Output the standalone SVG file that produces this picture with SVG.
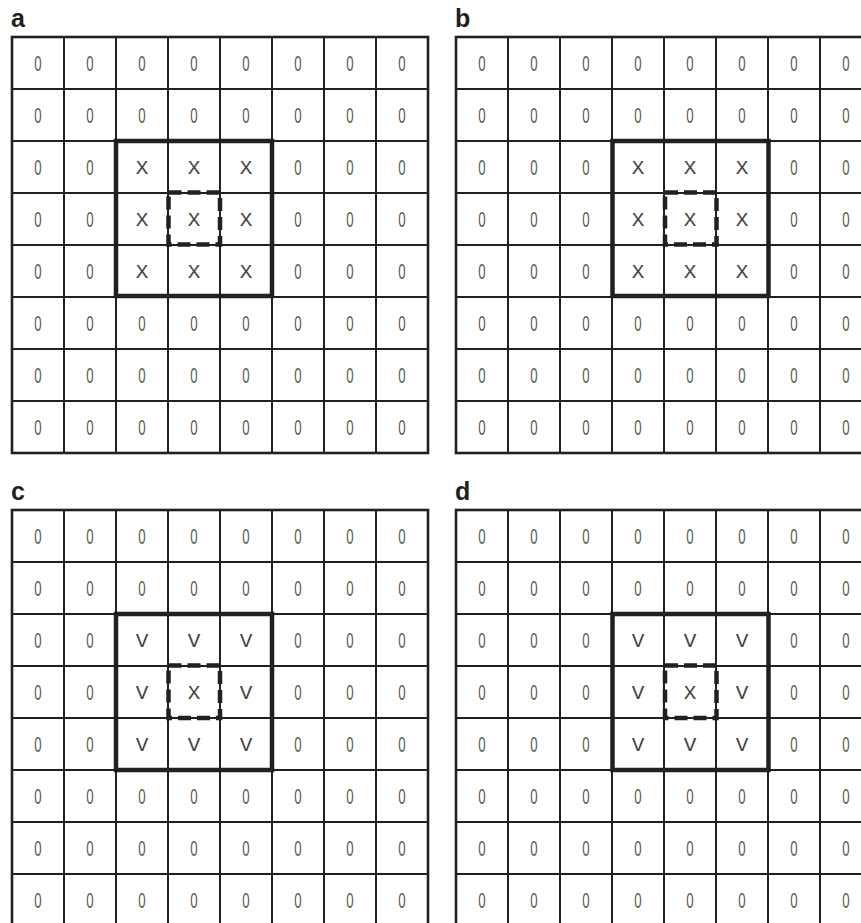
<svg xmlns="http://www.w3.org/2000/svg" width="861" height="923" viewBox="0 0 861 923">
<style>
.lbl{font-family:"Liberation Sans",Arial,sans-serif;font-weight:bold;font-size:25px;fill:#231f20}
.outer{fill:#fff;stroke:#231f20;stroke-width:2.6}
.inner{fill:none;stroke:#231f20;stroke-width:2}
.z{font-family:"Liberation Sans",Arial,sans-serif;font-size:22px;fill:#5a5a5a;text-anchor:middle}
.c{font-family:"Liberation Mono","Courier New",monospace;font-size:21px;fill:#444;text-anchor:middle}
.bold{fill:none;stroke:#231f20;stroke-width:4.5}
.dash{fill:none;stroke:#231f20;stroke-width:4.5;stroke-dasharray:13 6}
</style>
<rect width="861" height="923" fill="#fff"/>
<g id="connectors"/>

<g id="grid-a">
<text class="lbl" x="11" y="27">a</text>
<rect class="outer" x="12" y="37" width="416" height="416"/>
<path class="inner" d="M64 37V453M116 37V453M168 37V453M220 37V453M272 37V453M324 37V453M376 37V453M12 89H428M12 141H428M12 193H428M12 245H428M12 297H428M12 349H428M12 401H428"/>
<g transform="scale(0.6 1)">
<text class="z" x="63.33" y="71">0</text><text class="z" x="150" y="71">0</text><text class="z" x="236.67" y="71">0</text><text class="z" x="323.33" y="71">0</text><text class="z" x="410" y="71">0</text><text class="z" x="496.67" y="71">0</text><text class="z" x="583.33" y="71">0</text><text class="z" x="670" y="71">0</text>
<text class="z" x="63.33" y="123">0</text><text class="z" x="150" y="123">0</text><text class="z" x="236.67" y="123">0</text><text class="z" x="323.33" y="123">0</text><text class="z" x="410" y="123">0</text><text class="z" x="496.67" y="123">0</text><text class="z" x="583.33" y="123">0</text><text class="z" x="670" y="123">0</text>
<text class="z" x="63.33" y="175">0</text><text class="z" x="150" y="175">0</text><text class="z" x="496.67" y="175">0</text><text class="z" x="583.33" y="175">0</text><text class="z" x="670" y="175">0</text>
<text class="z" x="63.33" y="227">0</text><text class="z" x="150" y="227">0</text><text class="z" x="496.67" y="227">0</text><text class="z" x="583.33" y="227">0</text><text class="z" x="670" y="227">0</text>
<text class="z" x="63.33" y="279">0</text><text class="z" x="150" y="279">0</text><text class="z" x="496.67" y="279">0</text><text class="z" x="583.33" y="279">0</text><text class="z" x="670" y="279">0</text>
<text class="z" x="63.33" y="331">0</text><text class="z" x="150" y="331">0</text><text class="z" x="236.67" y="331">0</text><text class="z" x="323.33" y="331">0</text><text class="z" x="410" y="331">0</text><text class="z" x="496.67" y="331">0</text><text class="z" x="583.33" y="331">0</text><text class="z" x="670" y="331">0</text>
<text class="z" x="63.33" y="383">0</text><text class="z" x="150" y="383">0</text><text class="z" x="236.67" y="383">0</text><text class="z" x="323.33" y="383">0</text><text class="z" x="410" y="383">0</text><text class="z" x="496.67" y="383">0</text><text class="z" x="583.33" y="383">0</text><text class="z" x="670" y="383">0</text>
<text class="z" x="63.33" y="435">0</text><text class="z" x="150" y="435">0</text><text class="z" x="236.67" y="435">0</text><text class="z" x="323.33" y="435">0</text><text class="z" x="410" y="435">0</text><text class="z" x="496.67" y="435">0</text><text class="z" x="583.33" y="435">0</text><text class="z" x="670" y="435">0</text>
</g>
<text class="c" x="142" y="174">X</text><text class="c" x="194" y="174">X</text><text class="c" x="246" y="174">X</text>
<text class="c" x="142" y="226">X</text><text class="c" x="194" y="226">X</text><text class="c" x="246" y="226">X</text>
<text class="c" x="142" y="278">X</text><text class="c" x="194" y="278">X</text><text class="c" x="246" y="278">X</text>
<rect class="bold" x="116" y="141" width="156" height="155"/>
<rect class="dash" x="168.5" y="192.5" width="51.5" height="52"/>
</g>

<g id="grid-b">
<text class="lbl" x="455" y="27">b</text>
<rect class="outer" x="456" y="37" width="416" height="416"/>
<path class="inner" d="M508 37V453M560 37V453M612 37V453M664 37V453M716 37V453M768 37V453M820 37V453M456 89H872M456 141H872M456 193H872M456 245H872M456 297H872M456 349H872M456 401H872"/>
<g transform="scale(0.6 1)">
<text class="z" x="803.33" y="71">0</text><text class="z" x="890" y="71">0</text><text class="z" x="976.67" y="71">0</text><text class="z" x="1063.33" y="71">0</text><text class="z" x="1150" y="71">0</text><text class="z" x="1236.67" y="71">0</text><text class="z" x="1323.33" y="71">0</text><text class="z" x="1410" y="71">0</text>
<text class="z" x="803.33" y="123">0</text><text class="z" x="890" y="123">0</text><text class="z" x="976.67" y="123">0</text><text class="z" x="1063.33" y="123">0</text><text class="z" x="1150" y="123">0</text><text class="z" x="1236.67" y="123">0</text><text class="z" x="1323.33" y="123">0</text><text class="z" x="1410" y="123">0</text>
<text class="z" x="803.33" y="175">0</text><text class="z" x="890" y="175">0</text><text class="z" x="976.67" y="175">0</text><text class="z" x="1323.33" y="175">0</text><text class="z" x="1410" y="175">0</text>
<text class="z" x="803.33" y="227">0</text><text class="z" x="890" y="227">0</text><text class="z" x="976.67" y="227">0</text><text class="z" x="1323.33" y="227">0</text><text class="z" x="1410" y="227">0</text>
<text class="z" x="803.33" y="279">0</text><text class="z" x="890" y="279">0</text><text class="z" x="976.67" y="279">0</text><text class="z" x="1323.33" y="279">0</text><text class="z" x="1410" y="279">0</text>
<text class="z" x="803.33" y="331">0</text><text class="z" x="890" y="331">0</text><text class="z" x="976.67" y="331">0</text><text class="z" x="1063.33" y="331">0</text><text class="z" x="1150" y="331">0</text><text class="z" x="1236.67" y="331">0</text><text class="z" x="1323.33" y="331">0</text><text class="z" x="1410" y="331">0</text>
<text class="z" x="803.33" y="383">0</text><text class="z" x="890" y="383">0</text><text class="z" x="976.67" y="383">0</text><text class="z" x="1063.33" y="383">0</text><text class="z" x="1150" y="383">0</text><text class="z" x="1236.67" y="383">0</text><text class="z" x="1323.33" y="383">0</text><text class="z" x="1410" y="383">0</text>
<text class="z" x="803.33" y="435">0</text><text class="z" x="890" y="435">0</text><text class="z" x="976.67" y="435">0</text><text class="z" x="1063.33" y="435">0</text><text class="z" x="1150" y="435">0</text><text class="z" x="1236.67" y="435">0</text><text class="z" x="1323.33" y="435">0</text><text class="z" x="1410" y="435">0</text>
</g>
<text class="c" x="638" y="174">X</text><text class="c" x="690" y="174">X</text><text class="c" x="742" y="174">X</text>
<text class="c" x="638" y="226">X</text><text class="c" x="690" y="226">X</text><text class="c" x="742" y="226">X</text>
<text class="c" x="638" y="278">X</text><text class="c" x="690" y="278">X</text><text class="c" x="742" y="278">X</text>
<rect class="bold" x="612.5" y="141" width="156" height="155"/>
<rect class="dash" x="665" y="192.5" width="51.5" height="52"/>
</g>

<g id="grid-c">
<text class="lbl" x="11" y="500">c</text>
<rect class="outer" x="12" y="510" width="416" height="416"/>
<path class="inner" d="M64 510V926M116 510V926M168 510V926M220 510V926M272 510V926M324 510V926M376 510V926M12 562H428M12 614H428M12 666H428M12 718H428M12 770H428M12 822H428M12 874H428"/>
<g transform="scale(0.6 1)">
<text class="z" x="63.33" y="544">0</text><text class="z" x="150" y="544">0</text><text class="z" x="236.67" y="544">0</text><text class="z" x="323.33" y="544">0</text><text class="z" x="410" y="544">0</text><text class="z" x="496.67" y="544">0</text><text class="z" x="583.33" y="544">0</text><text class="z" x="670" y="544">0</text>
<text class="z" x="63.33" y="596">0</text><text class="z" x="150" y="596">0</text><text class="z" x="236.67" y="596">0</text><text class="z" x="323.33" y="596">0</text><text class="z" x="410" y="596">0</text><text class="z" x="496.67" y="596">0</text><text class="z" x="583.33" y="596">0</text><text class="z" x="670" y="596">0</text>
<text class="z" x="63.33" y="648">0</text><text class="z" x="150" y="648">0</text><text class="z" x="496.67" y="648">0</text><text class="z" x="583.33" y="648">0</text><text class="z" x="670" y="648">0</text>
<text class="z" x="63.33" y="700">0</text><text class="z" x="150" y="700">0</text><text class="z" x="496.67" y="700">0</text><text class="z" x="583.33" y="700">0</text><text class="z" x="670" y="700">0</text>
<text class="z" x="63.33" y="752">0</text><text class="z" x="150" y="752">0</text><text class="z" x="496.67" y="752">0</text><text class="z" x="583.33" y="752">0</text><text class="z" x="670" y="752">0</text>
<text class="z" x="63.33" y="804">0</text><text class="z" x="150" y="804">0</text><text class="z" x="236.67" y="804">0</text><text class="z" x="323.33" y="804">0</text><text class="z" x="410" y="804">0</text><text class="z" x="496.67" y="804">0</text><text class="z" x="583.33" y="804">0</text><text class="z" x="670" y="804">0</text>
<text class="z" x="63.33" y="856">0</text><text class="z" x="150" y="856">0</text><text class="z" x="236.67" y="856">0</text><text class="z" x="323.33" y="856">0</text><text class="z" x="410" y="856">0</text><text class="z" x="496.67" y="856">0</text><text class="z" x="583.33" y="856">0</text><text class="z" x="670" y="856">0</text>
<text class="z" x="63.33" y="908">0</text><text class="z" x="150" y="908">0</text><text class="z" x="236.67" y="908">0</text><text class="z" x="323.33" y="908">0</text><text class="z" x="410" y="908">0</text><text class="z" x="496.67" y="908">0</text><text class="z" x="583.33" y="908">0</text><text class="z" x="670" y="908">0</text>
</g>
<text class="c" x="142" y="647">V</text><text class="c" x="194" y="647">V</text><text class="c" x="246" y="647">V</text>
<text class="c" x="142" y="699">V</text><text class="c" x="194" y="699">X</text><text class="c" x="246" y="699">V</text>
<text class="c" x="142" y="751">V</text><text class="c" x="194" y="751">V</text><text class="c" x="246" y="751">V</text>
<rect class="bold" x="116" y="614" width="156" height="156"/>
<rect class="dash" x="168.5" y="665.5" width="51.5" height="52.5"/>
</g>

<g id="grid-d">
<text class="lbl" x="455" y="500">d</text>
<rect class="outer" x="456" y="510" width="416" height="416"/>
<path class="inner" d="M508 510V926M560 510V926M612 510V926M664 510V926M716 510V926M768 510V926M820 510V926M456 562H872M456 614H872M456 666H872M456 718H872M456 770H872M456 822H872M456 874H872"/>
<g transform="scale(0.6 1)">
<text class="z" x="803.33" y="544">0</text><text class="z" x="890" y="544">0</text><text class="z" x="976.67" y="544">0</text><text class="z" x="1063.33" y="544">0</text><text class="z" x="1150" y="544">0</text><text class="z" x="1236.67" y="544">0</text><text class="z" x="1323.33" y="544">0</text><text class="z" x="1410" y="544">0</text>
<text class="z" x="803.33" y="596">0</text><text class="z" x="890" y="596">0</text><text class="z" x="976.67" y="596">0</text><text class="z" x="1063.33" y="596">0</text><text class="z" x="1150" y="596">0</text><text class="z" x="1236.67" y="596">0</text><text class="z" x="1323.33" y="596">0</text><text class="z" x="1410" y="596">0</text>
<text class="z" x="803.33" y="648">0</text><text class="z" x="890" y="648">0</text><text class="z" x="976.67" y="648">0</text><text class="z" x="1323.33" y="648">0</text><text class="z" x="1410" y="648">0</text>
<text class="z" x="803.33" y="700">0</text><text class="z" x="890" y="700">0</text><text class="z" x="976.67" y="700">0</text><text class="z" x="1323.33" y="700">0</text><text class="z" x="1410" y="700">0</text>
<text class="z" x="803.33" y="752">0</text><text class="z" x="890" y="752">0</text><text class="z" x="976.67" y="752">0</text><text class="z" x="1323.33" y="752">0</text><text class="z" x="1410" y="752">0</text>
<text class="z" x="803.33" y="804">0</text><text class="z" x="890" y="804">0</text><text class="z" x="976.67" y="804">0</text><text class="z" x="1063.33" y="804">0</text><text class="z" x="1150" y="804">0</text><text class="z" x="1236.67" y="804">0</text><text class="z" x="1323.33" y="804">0</text><text class="z" x="1410" y="804">0</text>
<text class="z" x="803.33" y="856">0</text><text class="z" x="890" y="856">0</text><text class="z" x="976.67" y="856">0</text><text class="z" x="1063.33" y="856">0</text><text class="z" x="1150" y="856">0</text><text class="z" x="1236.67" y="856">0</text><text class="z" x="1323.33" y="856">0</text><text class="z" x="1410" y="856">0</text>
<text class="z" x="803.33" y="908">0</text><text class="z" x="890" y="908">0</text><text class="z" x="976.67" y="908">0</text><text class="z" x="1063.33" y="908">0</text><text class="z" x="1150" y="908">0</text><text class="z" x="1236.67" y="908">0</text><text class="z" x="1323.33" y="908">0</text><text class="z" x="1410" y="908">0</text>
</g>
<text class="c" x="638" y="647">V</text><text class="c" x="690" y="647">V</text><text class="c" x="742" y="647">V</text>
<text class="c" x="638" y="699">V</text><text class="c" x="690" y="699">X</text><text class="c" x="742" y="699">V</text>
<text class="c" x="638" y="751">V</text><text class="c" x="690" y="751">V</text><text class="c" x="742" y="751">V</text>
<rect class="bold" x="612.5" y="614" width="156" height="156"/>
<rect class="dash" x="665" y="665.5" width="51.5" height="52.5"/>
</g>
</svg>
